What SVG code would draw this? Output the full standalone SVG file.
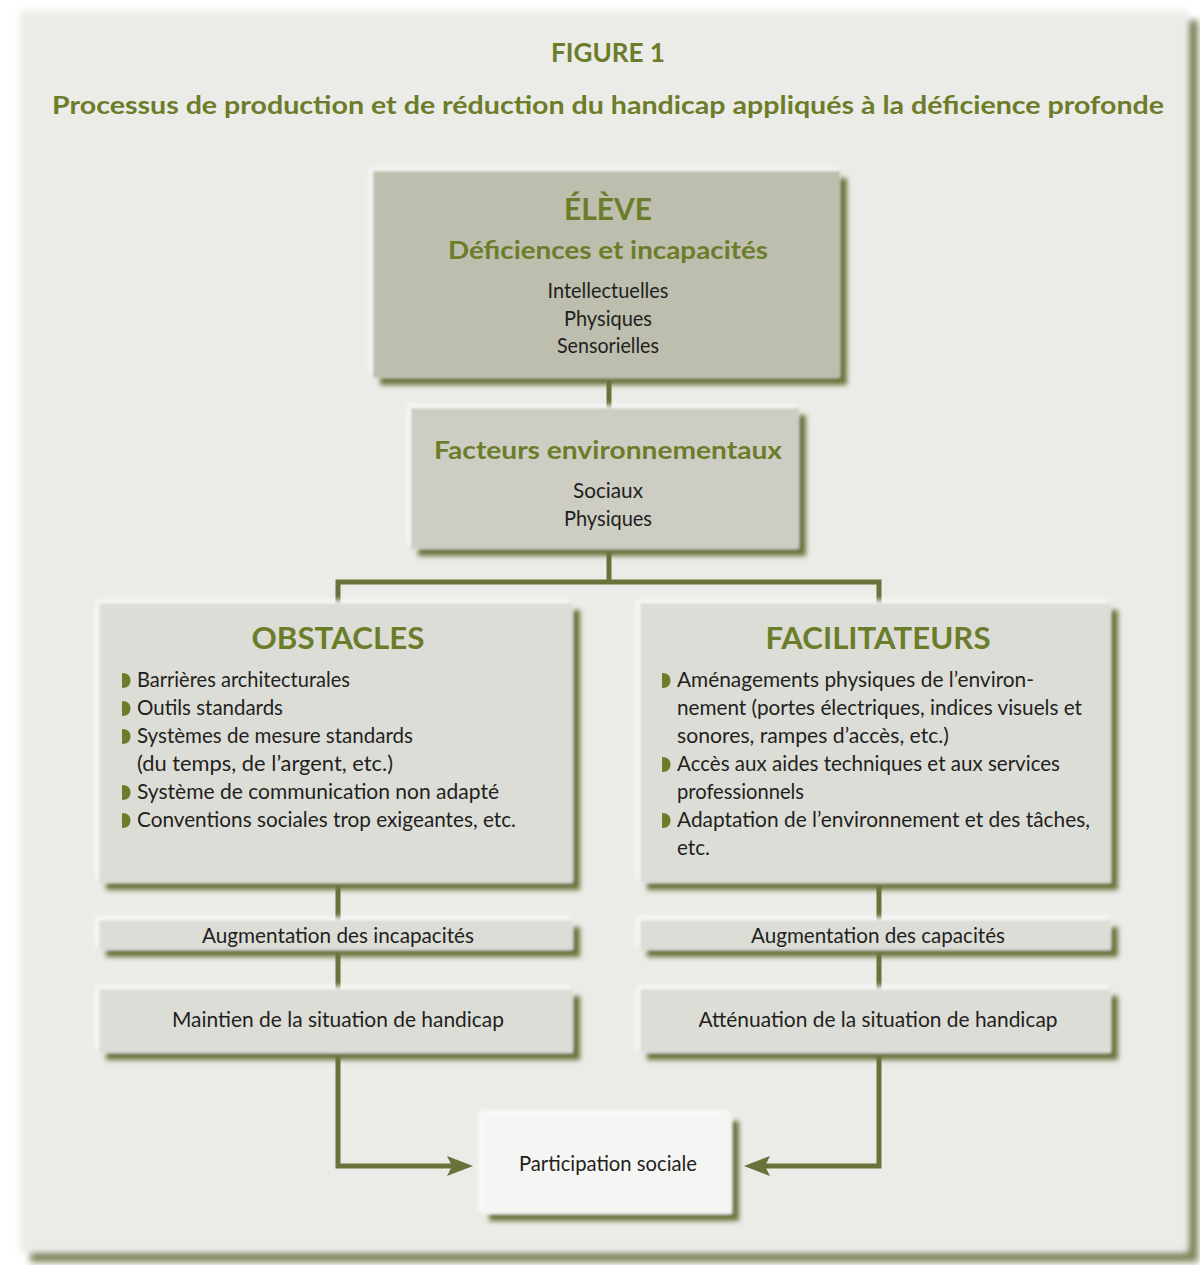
<svg xmlns="http://www.w3.org/2000/svg" xmlns:xlink="http://www.w3.org/1999/xlink" width="1200" height="1265" viewBox="0 0 1200 1265">
<style>
.h{font-family:Lato,"Open Sans","Liberation Sans",sans-serif;font-weight:bold;fill:#6b7d2a;text-anchor:middle}
.t{font-family:Lato,"Open Sans","Liberation Sans",sans-serif;fill:#231f20;font-size:21px}
.c{text-anchor:middle}
.conn{fill:none;stroke:#6a713a;stroke-width:5;stroke-linejoin:miter}
.bul{fill:#6b7d2a}
</style>
<defs>
<filter id="bevel" filterUnits="userSpaceOnUse" x="0" y="0" width="1200" height="1265">
  <feGaussianBlur in="SourceAlpha" stdDeviation="2.5" result="b"/>
  <feOffset in="b" dx="7" dy="7" result="so"/>
  <feFlood flood-color="#6d743c"/>
  <feComposite in2="so" operator="in" result="shadow"/>
  <feOffset in="b" dx="-3" dy="-3" result="ho"/>
  <feFlood flood-color="#ffffff" flood-opacity="0.85"/>
  <feComposite in2="ho" operator="in" result="hl"/>
  <feGaussianBlur in="SourceGraphic" stdDeviation="1.8" result="sg"/>
  <feMerge><feMergeNode in="shadow"/><feMergeNode in="hl"/><feMergeNode in="sg"/></feMerge>
</filter>
<filter id="bevelBig" filterUnits="userSpaceOnUse" x="0" y="0" width="1200" height="1265">
  <feGaussianBlur in="SourceAlpha" stdDeviation="3.5" result="b"/>
  <feOffset in="b" dx="10" dy="10" result="so"/>
  <feFlood flood-color="#7b8050"/>
  <feComposite in2="so" operator="in" result="shadow"/>
  <feOffset in="b" dx="-4" dy="-4" result="ho"/>
  <feFlood flood-color="#ffffff" flood-opacity="0.9"/>
  <feComposite in2="ho" operator="in" result="hl"/>
  <feGaussianBlur in="SourceGraphic" stdDeviation="3" result="sg"/>
  <feMerge><feMergeNode in="shadow"/><feMergeNode in="hl"/><feMergeNode in="sg"/></feMerge>
</filter>
<marker id="ah" markerUnits="userSpaceOnUse" viewBox="0 0 26 20" refX="15" refY="10" markerWidth="26" markerHeight="20" orient="auto">
  <path d="M0,0 L26,10 L0,20 L5,10 Z" fill="#6a713a"/>
</marker>
<path id="bul" d="M0,0 C6,0 8.5,3.5 8.5,7.5 C8.5,11.5 6,15 0,15 Z"/>
</defs>
<rect x="0" y="0" width="1200" height="1265" fill="#ffffff"/>
<g id="frame">
  <rect x="20" y="10" width="1168" height="1242" fill="#ebebe7" filter="url(#bevelBig)"/>
  <text class="h" x="608" y="62" font-size="27" textLength="114" lengthAdjust="spacingAndGlyphs">FIGURE 1</text>
  <text class="h" x="608" y="114" font-size="25" textLength="1112" lengthAdjust="spacingAndGlyphs">Processus de production et de réduction du handicap appliqués à la déficience profonde</text>
</g>
<g id="connectors">
  <path class="conn" d="M609,380 V412"/>
  <path class="conn" d="M609,550 V582 M338,604 V582 H879 V604"/>
  <path class="conn" d="M338,885 V922 M338,952 V991"/>
  <path class="conn" d="M879,885 V922 M879,952 V991"/>
  <path class="conn" d="M338,1055 V1166 H462" marker-end="url(#ah)"/>
  <path class="conn" d="M879,1055 V1166 H755" marker-end="url(#ah)"/>
</g>
<g id="eleve">
  <rect x="373" y="171" width="467" height="207" fill="#bdbeae" filter="url(#bevel)"/>
  <text class="h" x="608" y="220" font-size="30" textLength="88" lengthAdjust="spacingAndGlyphs">ÉLÈVE</text>
  <text class="h" x="608" y="259" font-size="24" textLength="320" lengthAdjust="spacingAndGlyphs">Déficiences et incapacités</text>
  <text class="t c" x="608" y="298" textLength="121" lengthAdjust="spacingAndGlyphs">Intellectuelles</text>
  <text class="t c" x="608" y="326" textLength="88" lengthAdjust="spacingAndGlyphs">Physiques</text>
  <text class="t c" x="608" y="353" textLength="102" lengthAdjust="spacingAndGlyphs">Sensorielles</text>
</g>
<g id="facteurs">
  <rect x="411" y="408" width="388" height="141" fill="#cdcdc4" filter="url(#bevel)"/>
  <text class="h" x="608" y="459" font-size="24" textLength="348" lengthAdjust="spacingAndGlyphs">Facteurs environnementaux</text>
  <text class="t c" x="608" y="498" textLength="70" lengthAdjust="spacingAndGlyphs">Sociaux</text>
  <text class="t c" x="608" y="526" textLength="88" lengthAdjust="spacingAndGlyphs">Physiques</text>
</g>
<g id="obstacles">
  <rect x="99" y="603" width="474" height="280" fill="#dcddd7" filter="url(#bevel)"/>
  <text class="h" x="338" y="649" font-size="30" textLength="173" lengthAdjust="spacingAndGlyphs">OBSTACLES</text>
  <use href="#bul" class="bul" x="122" y="673"/>
  <text class="t" x="137" y="687" textLength="213" lengthAdjust="spacingAndGlyphs">Barrières architecturales</text>
  <use href="#bul" class="bul" x="122" y="701"/>
  <text class="t" x="137" y="715" textLength="146" lengthAdjust="spacingAndGlyphs">Outils standards</text>
  <use href="#bul" class="bul" x="122" y="729"/>
  <text class="t" x="137" y="743" textLength="276" lengthAdjust="spacingAndGlyphs">Systèmes de mesure standards</text>
  <text class="t" x="137" y="771" textLength="256" lengthAdjust="spacingAndGlyphs">(du temps, de l’argent, etc.)</text>
  <use href="#bul" class="bul" x="122" y="785"/>
  <text class="t" x="137" y="799" textLength="362" lengthAdjust="spacingAndGlyphs">Système de communication non adapté</text>
  <use href="#bul" class="bul" x="122" y="813"/>
  <text class="t" x="137" y="827" textLength="379" lengthAdjust="spacingAndGlyphs">Conventions sociales trop exigeantes, etc.</text>
</g>
<g id="facilitateurs">
  <rect x="640" y="603" width="471" height="280" fill="#dcddd7" filter="url(#bevel)"/>
  <text class="h" x="878" y="649" font-size="30" textLength="225" lengthAdjust="spacingAndGlyphs">FACILITATEURS</text>
  <use href="#bul" class="bul" x="662" y="673"/>
  <text class="t" x="677" y="687" textLength="357" lengthAdjust="spacingAndGlyphs">Aménagements physiques de l’environ-</text>
  <text class="t" x="677" y="715" textLength="405" lengthAdjust="spacingAndGlyphs">nement (portes électriques, indices visuels et</text>
  <text class="t" x="677" y="743" textLength="272" lengthAdjust="spacingAndGlyphs">sonores, rampes d’accès, etc.)</text>
  <use href="#bul" class="bul" x="662" y="757"/>
  <text class="t" x="677" y="771" textLength="383" lengthAdjust="spacingAndGlyphs">Accès aux aides techniques et aux services</text>
  <text class="t" x="677" y="799" textLength="127" lengthAdjust="spacingAndGlyphs">professionnels</text>
  <use href="#bul" class="bul" x="662" y="813"/>
  <text class="t" x="677" y="827" textLength="413" lengthAdjust="spacingAndGlyphs">Adaptation de l’environnement et des tâches,</text>
  <text class="t" x="677" y="855" textLength="33" lengthAdjust="spacingAndGlyphs">etc.</text>
</g>
<g id="aug-incapacites">
  <rect x="99" y="920" width="474" height="30" fill="#dcddd7" filter="url(#bevel)"/>
  <text class="t c" x="338" y="943" textLength="272" lengthAdjust="spacingAndGlyphs">Augmentation des incapacités</text>
</g>
<g id="aug-capacites">
  <rect x="640" y="920" width="471" height="30" fill="#dcddd7" filter="url(#bevel)"/>
  <text class="t c" x="878" y="943" textLength="254" lengthAdjust="spacingAndGlyphs">Augmentation des capacités</text>
</g>
<g id="maintien">
  <rect x="99" y="989" width="474" height="64" fill="#dcddd7" filter="url(#bevel)"/>
  <text class="t c" x="338" y="1027" textLength="332" lengthAdjust="spacingAndGlyphs">Maintien de la situation de handicap</text>
</g>
<g id="attenuation">
  <rect x="640" y="989" width="471" height="64" fill="#dcddd7" filter="url(#bevel)"/>
  <text class="t c" x="878" y="1027" textLength="359" lengthAdjust="spacingAndGlyphs">Atténuation de la situation de handicap</text>
</g>
<g id="participation">
  <rect x="482" y="1114" width="250" height="100" fill="#f5f5f3" filter="url(#bevel)"/>
  <text class="t c" x="608" y="1171" textLength="178" lengthAdjust="spacingAndGlyphs">Participation sociale</text>
</g>
</svg>
